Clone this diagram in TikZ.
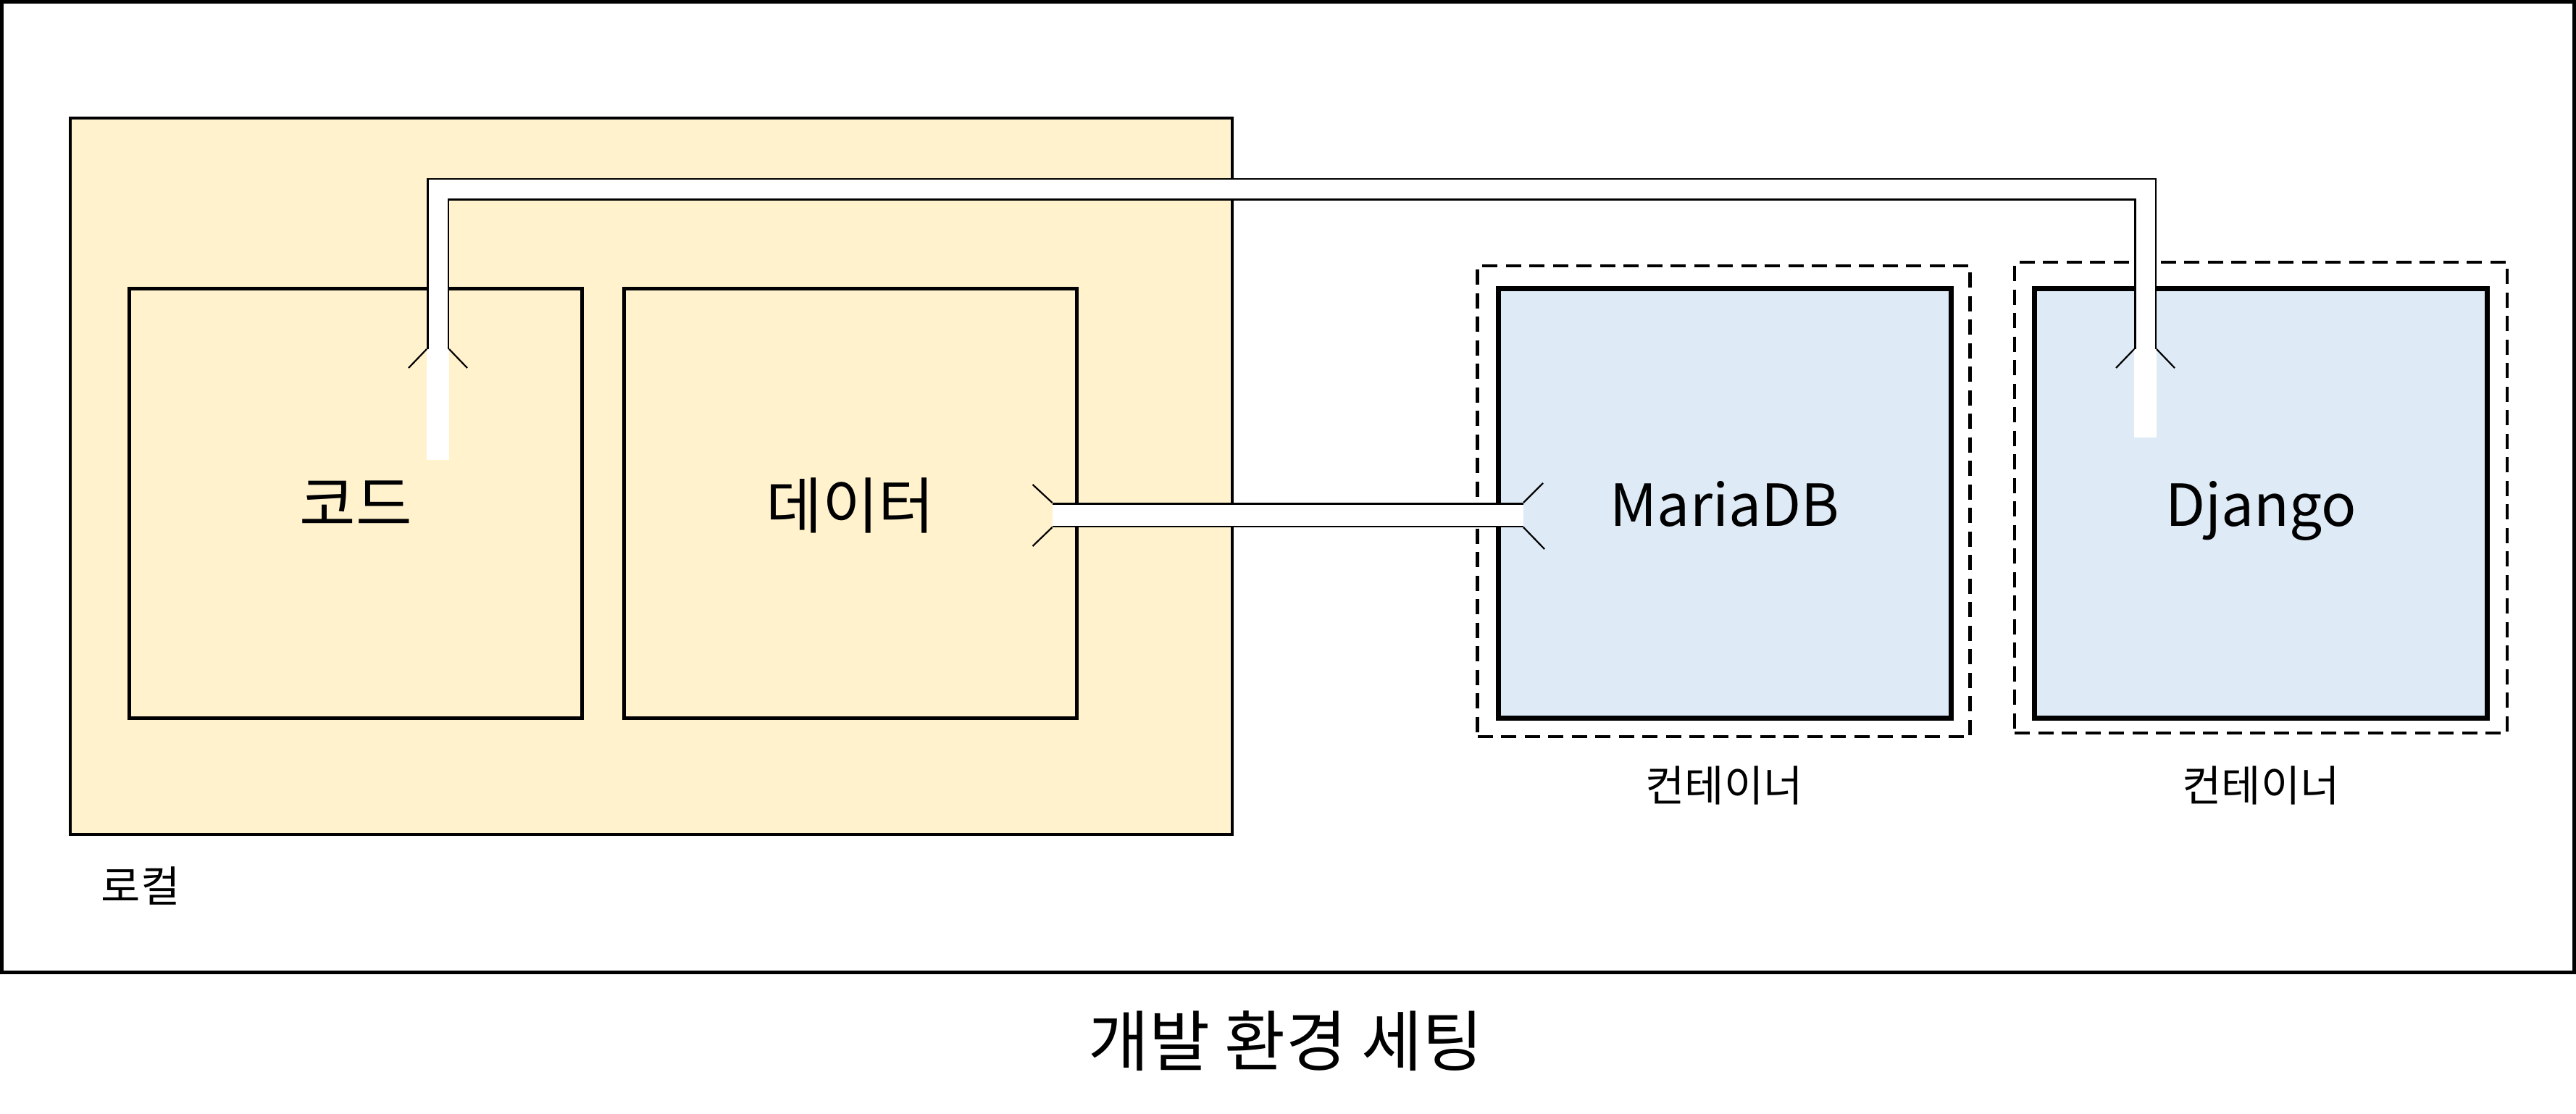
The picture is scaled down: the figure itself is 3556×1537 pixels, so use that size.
\documentclass[tikz,border=0pt]{standalone}
\usepackage{fontspec}
\setmainfont{Noto Sans CJK KR}
\usetikzlibrary{calc}

\definecolor{localfill}{HTML}{FFF2CC}
\definecolor{boxfill}{HTML}{DEEBF7}

\tikzset{
  frame/.style={draw, line width=0.5mm, minimum width=355.1mm, minimum height=134mm},
  localbox/.style={draw, fill=localfill, line width=0.42mm, minimum width=160.4mm, minimum height=98.9mm},
  srcbox/.style={draw, line width=0.42mm, outer sep=0pt, minimum width=62.5mm, minimum height=59.3mm,
    text depth=0pt, font=\fontsize{24}{28}\selectfont},
  ctrbox/.style={srcbox, fill=boxfill, line width=0.65mm, font=\fontsize{22.8}{27}\selectfont},
  ctrwrap/.style={draw, dash pattern=on 2.1mm off 1.15mm, line width=0.45mm, minimum width=68mm, minimum height=65mm},
  caption/.style={font=\fontsize{16.8}{20}\selectfont, inner sep=0pt},
  pipe/.style={draw=black, line width=0.25mm, double=white, double distance=2.6mm},
  flare/.style={line width=0.22mm},
}

\begin{document}
\begin{tikzpicture}[x=0.1mm,y=-0.1mm]
\useasboundingbox (0,0) rectangle (3556,1537);

\node[frame] (frame) at (1777.5,672) {};

% local machine
\node[localbox] (local) at (899,657.5) {};
\node[caption, anchor=west] (localcap) at (139,1223) {로컬};
\node[srcbox] (code) at (491,695) {코드};
\node[srcbox] (data) at (1174,695) {데이터};

% containers
\node[ctrwrap] (dbwrap) at (2379.5,692) {};
\node[ctrwrap] (djwrap) at (3121,687) {};
\node[ctrbox] (mariadb) at (2381,695) {MariaDB};
\node[ctrbox] (django) at (3121,695) {Django};
\node[caption] (dbcap) at (2380,1084) {컨테이너};
\node[caption] (djcap) at (3121,1084) {컨테이너};

\node[font=\fontsize{26}{31}\selectfont] (title) at (1775,1437) {개발 환경 세팅};

% data volume
\coordinate (dataport) at ([xshift=-3.4mm,yshift=-1.6mm]data.east);
\coordinate (dbport) at ([xshift=3.45mm,yshift=-1.6mm]mariadb.west);
\draw[pipe, double distance=2.9mm] (dataport) -- (dbport);
\draw[flare] ([yshift=1.7mm]dataport) -- ++(-2.7mm,2.5mm);
\draw[flare] ([yshift=-1.7mm]dataport) -- ++(-2.7mm,-2.6mm);
\draw[flare] ([yshift=1.7mm]dbport) -- ++(2.7mm,2.7mm);
\draw[flare] ([yshift=-1.7mm]dbport) -- ++(2.9mm,-3mm);

% code volume
\coordinate (codeport) at ([xshift=11.35mm,yshift=-8.35mm]code.north);
\coordinate (djport) at ([xshift=-15.95mm,yshift=-8.35mm]django.north);
\coordinate (bend) at ([yshift=22.1mm]codeport);
\draw[pipe] (djport) |- (bend) -- (codeport);
\foreach \p/\len in {codeport/15.3mm, djport/12.2mm} {
  \fill[white] ([xshift=-1.55mm]\p) rectangle ++(3.1mm,-\len);
  \draw[flare] ([xshift=-1.55mm]\p) -- ++(-2.5mm,-2.6mm);
  \draw[flare] ([xshift=1.55mm]\p) -- ++(2.5mm,-2.6mm);
}
\end{tikzpicture}
\end{document}
